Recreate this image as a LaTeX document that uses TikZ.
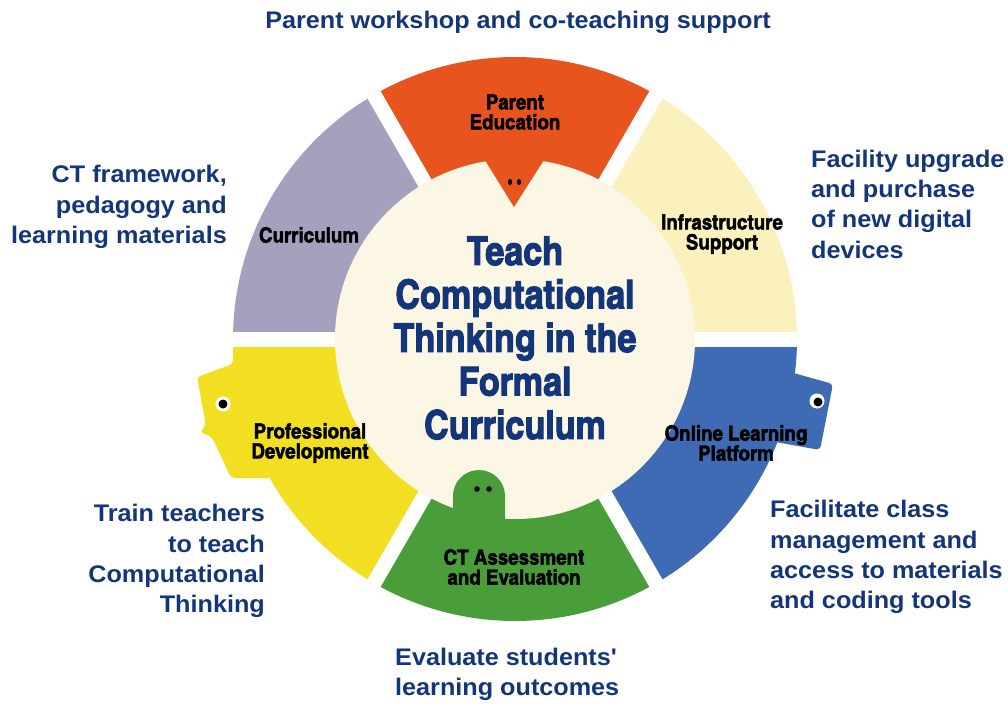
\documentclass[tikz,border=0pt]{standalone}
\usepackage{fontspec}
\setmainfont{Liberation Sans}
\newfontfamily\condfont{texgyreheroscn-bold.otf}[FakeBold=2, FakeStretch=1.09]
\newfontfamily\titlefont{texgyreheroscn-bold.otf}[FakeBold=2.5, FakeStretch=1.04]
\newfontfamily\sidefont{Liberation Sans Bold}[FakeStretch=1.05]

\definecolor{ctblue}{HTML}{13357A}
\definecolor{parentcol}{HTML}{E8541E}
\definecolor{infracol}{HTML}{FAF1BD}
\definecolor{onlinecol}{HTML}{3F6BB4}
\definecolor{assesscol}{HTML}{4A9E3A}
\definecolor{profcol}{HTML}{F2DF22}
\definecolor{currcol}{HTML}{A6A0BF}
\definecolor{corecol}{HTML}{FCF6E5}

\begin{document}
\begin{tikzpicture}[x=1pt, y=1pt,
    seglabel/.style={font=\condfont\fontsize{21}{20}\selectfont, align=center, inner sep=0pt},
    sidetext/.style={font=\sidefont\fontsize{24}{30.3}\selectfont, text=ctblue, inner sep=0pt}]
    \useasboundingbox (-515,-365) rectangle (493,339);
    % ring segments
    \fill[infracol] (0,0) -- (0:282) arc[start angle=0, end angle=60, radius=282] -- cycle;
    \fill[parentcol] (0,0) -- (60:282) arc[start angle=60, end angle=120, radius=282] -- cycle;
    \fill[currcol] (0,0) -- (120:282) arc[start angle=120, end angle=180, radius=282] -- cycle;
    \fill[profcol] (0,0) -- (180:282) arc[start angle=180, end angle=240, radius=282] -- cycle;
    \fill[assesscol] (0,0) -- (240:282) arc[start angle=240, end angle=300, radius=282] -- cycle;
    \fill[onlinecol] (0,0) -- (300:282) arc[start angle=300, end angle=360, radius=282] -- cycle;
    % heads sticking out
    \fill[profcol, rounded corners=4] (-282,-7) -- (-282,-25) -- (-318,-38) -- (-309,-86) -- (-315,-93)
        -- (-303,-98) -- (-284,-139) -- (-225,-139) -- (-225,-7) -- cycle;
    \fill[onlinecol, rounded corners=4] (275,-33) -- (318,-45) -- (305,-111) -- (255,-102) -- cycle;
    % white gaps
    \foreach \a in {0,60,120}
        \draw[white, line width=15] (\a:284) -- (\a+180:284);
    % centre disc
    \fill[corecol] (0,0) circle[radius=180];
    \fill[parentcol] (-37,190) -- (-1,132) -- (36,190) -- cycle;
    \fill[assesscol] (-62,-186) -- (-62,-157) arc[start angle=180, end angle=0, radius=26] -- (-10,-186) -- cycle;
    % eyes
    \fill (-5,157) ellipse[x radius=2.2, y radius=3];
    \fill (4,157) ellipse[x radius=2.2, y radius=3];
    \fill (-38,-150) circle[radius=2.8];
    \fill (-26,-150) circle[radius=2.8];
    \fill[white] (-292,-65) circle[radius=7.5];
    \fill (-292,-65) circle[radius=4.5];
    \fill[white] (302,-62) circle[radius=7.5];
    \fill (303,-63) circle[radius=4.5];
    % segment labels
    \node[seglabel] (parent) at (0,227) {Parent\\Education};
    \node[seglabel] (infra) at (207,105) {Infrastructure\\Support};
    \node[seglabel] (curr) at (-206,104) {Curriculum};
    \node[seglabel] (prof) at (-205,-104) {Professional\\Development};
    \node[seglabel] (online) at (221,-104) {Online Learning\\Platform};
    \node[seglabel] (assess) at (-1,-228) {CT Assessment\\and Evaluation};
    \node[font=\titlefont\fontsize{40}{43.5}\selectfont, text=ctblue, align=center, inner sep=0pt] (title) at (0,1)
        {Teach\\Computational\\Thinking in the\\Formal\\Curriculum};
    % outside texts
    \node[sidetext, align=center] (parenttext) at (3,317) {Parent workshop and co-teaching support};
    \node[sidetext, anchor=east, align=right] (currtext) at (-288,132) {CT framework,\\pedagogy and\\learning materials};
    \node[sidetext, anchor=west, align=left] (infratext) at (296,135) {Facility upgrade\\and purchase\\of new digital\\devices};
    \node[sidetext, anchor=east, align=right] (proftext) at (-250,-222) {Train teachers\\to teach\\Computational\\Thinking};
    \node[sidetext, anchor=west, align=left] (onlinetext) at (255,-218) {Facilitate class\\management and\\access to materials\\and coding tools};
    \node[sidetext, anchor=west, align=left] (assesstext) at (-120,-335) {Evaluate students\char39\\learning outcomes};
\end{tikzpicture}
\end{document}
